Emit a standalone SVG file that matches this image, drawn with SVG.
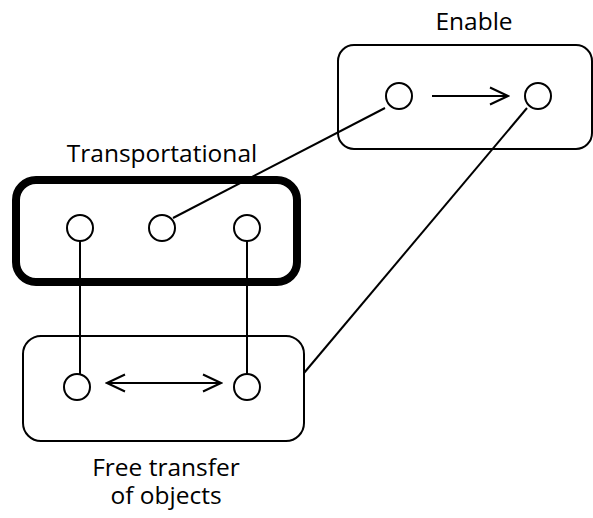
<svg xmlns="http://www.w3.org/2000/svg" width="593" height="518" viewBox="0 0 593 518">
  <style>
    .box { fill: none; stroke: #000; stroke-width: 2; }
    .bold { stroke-width: 8; }
    .node { fill: #fff; stroke: #000; stroke-width: 2; }
    .link { fill: none; stroke: #000; stroke-width: 2; }
    .label { font-family: "Open Sans", "Liberation Sans", sans-serif; font-size: 24.5px; fill: #000; text-anchor: middle; }
  </style>
  <defs>
    <marker id="head" viewBox="0 0 22 20" refX="20" refY="10" markerWidth="22" markerHeight="20" markerUnits="userSpaceOnUse" orient="auto-start-reverse">
      <path d="M2,1.5 L20,10 L2,18.5" fill="none" stroke="#000" stroke-width="2"/>
    </marker>
  </defs>

  <g id="connectors">
    <line class="link" x1="385" y1="108" x2="173" y2="218"/>
    <line class="link" x1="527" y1="108" x2="304" y2="373"/>
    <line class="link" x1="80" y1="241" x2="80" y2="374"/>
    <line class="link" x1="247" y1="241" x2="247" y2="374"/>
  </g>

  <g id="enable">
    <rect class="box" x="338" y="45" width="254" height="104" rx="16"/>
    <circle class="node" cx="399" cy="96" r="13"/>
    <circle class="node" cx="538" cy="96" r="13"/>
    <line class="link" x1="432" y1="96" x2="508" y2="96" marker-end="url(#head)"/>
    <text class="label" x="474" y="30">Enable</text>
  </g>

  <g id="transportational">
    <rect class="box bold" x="16" y="180" width="281" height="102" rx="20"/>
    <circle class="node" cx="80" cy="228" r="13"/>
    <circle class="node" cx="162" cy="228" r="13"/>
    <circle class="node" cx="247" cy="228" r="13"/>
    <text class="label" x="162" y="162">Transportational</text>
  </g>

  <g id="free-transfer">
    <rect class="box" x="23" y="336" width="281" height="105" rx="18"/>
    <circle class="node" cx="77" cy="387" r="13"/>
    <circle class="node" cx="247" cy="387" r="13"/>
    <line class="link" x1="107" y1="383" x2="221" y2="383" marker-start="url(#head)" marker-end="url(#head)"/>
    <text class="label" x="166" y="476">Free transfer<tspan x="166" y="504">of objects</tspan></text>
  </g>
</svg>
